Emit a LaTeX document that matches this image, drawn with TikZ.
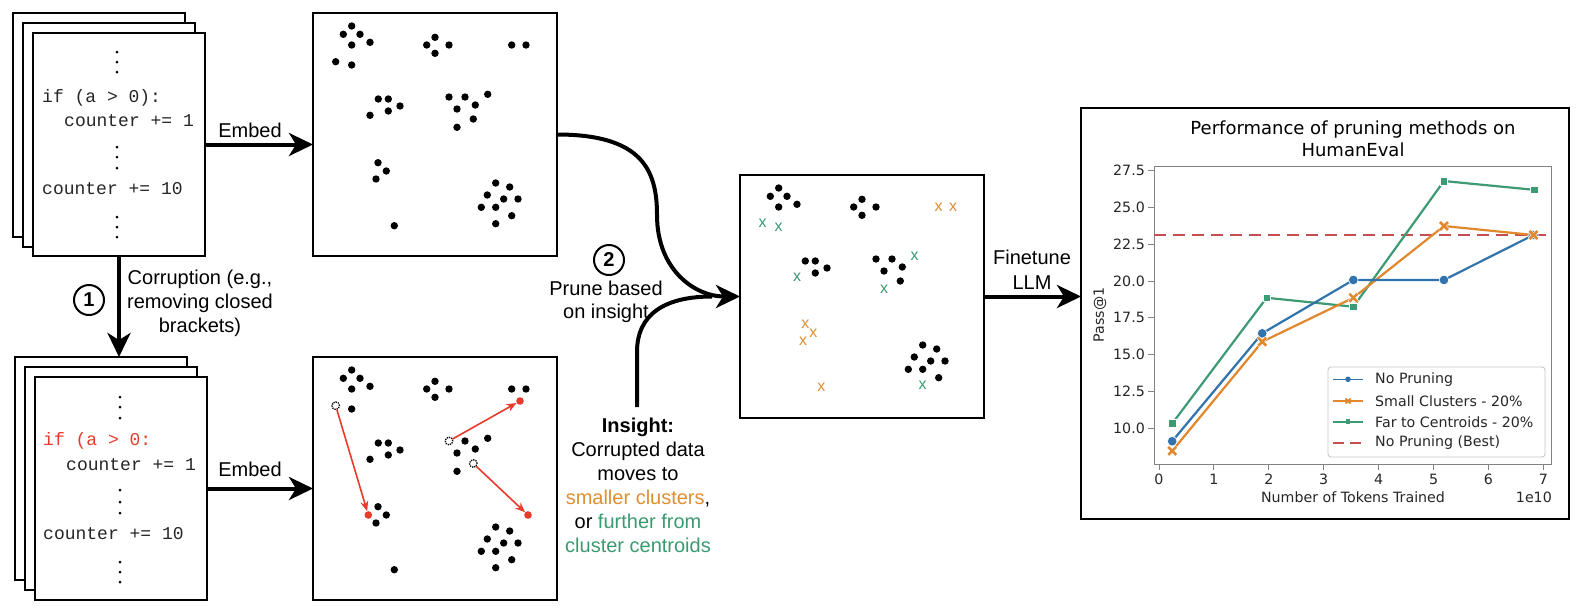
\documentclass[tikz,border=0pt]{standalone}
\usepackage{fontspec}
\setmainfont{Liberation Sans}
\newfontfamily\codefont{Liberation Mono}
\newfontfamily\plotfont{DejaVu Sans}
\usetikzlibrary{arrows.meta}
\definecolor{cred}{RGB}{232,59,44}
\definecolor{corange}{RGB}{222,143,50}
\definecolor{cgreen}{RGB}{60,154,113}
\definecolor{pblue}{RGB}{49,115,173}
\definecolor{porange}{RGB}{225,135,45}
\definecolor{pgreen}{RGB}{60,155,115}
\definecolor{pred}{RGB}{196,78,82}
\definecolor{ptext}{RGB}{38,38,38}
\definecolor{pspine}{RGB}{130,130,130}
\tikzset{
  sheet/.style={draw=black, line width=2pt, fill=white, inner sep=0pt, outer sep=0pt,
    minimum width=172pt, minimum height=223pt, anchor=north west},
  panel/.style={draw=black, line width=2pt, fill=white, inner sep=0pt, outer sep=0pt,
    minimum width=244pt, minimum height=243pt, anchor=north west},
  bigarrow/.style={line width=4pt, -{Stealth[length=24pt,width=23pt,inset=7pt]}},
  thickline/.style={line width=4pt},
  lbl/.style={font=\fontsize{20}{24}\selectfont, align=center, inner sep=0pt},
  code/.style={font=\codefont\fontsize{18}{18}\selectfont, anchor=base west, inner sep=0pt, text=black!85},
  numcirc/.style={circle, draw=black, line width=2pt, minimum size=30pt, inner sep=0pt,
    font=\bfseries\fontsize{20}{20}\selectfont},
  vdot/.style={fill=black},
  bdot/.style={fill=black},
  hollow/.style={draw=black, densely dotted, line width=1.3pt},
  reddot/.style={fill=cred},
  redarrow/.style={draw=cred, line width=1.6pt, -{Stealth[length=10pt,width=8pt]},
    shorten >=4pt, shorten <=4pt},
  xmark/.style={font=\fontsize{16}{16}\selectfont, inner sep=0pt},
  plotlbl/.style={font=\plotfont\fontsize{14.2}{17}\selectfont, text=ptext, inner sep=0pt},
  spine/.style={draw=pspine, line width=1pt},
  series/.style={line width=2.2pt},
  bestline/.style={pred, line width=2.6pt, dash pattern=on 12pt off 7pt},
}
\begin{document}
\begin{tikzpicture}[x=1pt, y=-1pt]
\useasboundingbox (0,0) rectangle (1584,614);
\fill[white] (0,0) rectangle (1584,614);

% ---------- top stack of code pages ----------
\node[sheet, minimum height=224pt] (back1) at (13,13) {};
\node[sheet, minimum height=224pt] (mid1) at (23,23) {};
\node[sheet] (front1) at (33,33) {};
\foreach \yy in {52,62,72,147,157,168,217,227,237}
  \fill[vdot] (117,\yy) circle[radius=1.5pt];
\node[code] (c1a) at (42,102) {if (a > 0):};
\node[code] (c1b) at (64,126) {counter += 1};
\node[code] (c1c) at (42,194) {counter += 10};

% ---------- bottom stack of code pages ----------
\node[sheet] (back2) at (15,357) {};
\node[sheet] (mid2) at (25,367) {};
\node[sheet] (front2) at (35,377) {};
\foreach \yy in {397,407,418,490,502,513,562,572,582}
  \fill[vdot] (120,\yy) circle[radius=1.5pt];
\node[code, text=cred] (c2a) at (43,445) {if (a > 0:};
\node[code] (c2b) at (66,470) {counter += 1};
\node[code] (c2c) at (43,539) {counter += 10};

% ---------- corruption arrow ----------
\draw[bigarrow] (front1.south) -- (front1.south |- back2.north);
\node[numcirc] (one) at (89,300) {1};
\node[lbl] (corr) at (200,303) {Corruption (e.g.,\\removing closed\\brackets)};

% ---------- embedding panels ----------
\node[panel] (box1) at (313,13) {};
\node[panel] (box2) at (313,357) {};
\node[panel] (box3) at (740,175) {};

% common black points
\foreach \ox/\oy in {313/13, 313/357, 740/175}{
  \begin{scope}[shift={(\ox,\oy)}]
  \foreach \p in {(38.7,13),(30.3,21.3),(47,21.3),(38.7,32),(57,29.3),
                  (122,24.3),(113.7,32),(136,32),(122,40.3),
                  (65.3,86),(75.3,86),(87,93),(75.3,98),
                  (152,84),(144,96),(162.3,92),
                  (182.7,170),(196.7,174),(174.3,182),(190.7,186),(205,186),(168.3,194.3),(182.7,194.3),(198.7,202.7)}
    \fill[bdot] \p circle[radius=3.7pt];
  \end{scope}
}
% box 1 extra points
\begin{scope}[shift={(313,13)}]
  \foreach \p in {(22.7,48.7),(38.7,52),(198.7,32),(213,32),(57,102.3),(136,84),(174.7,81.3),
                  (160.3,106),(144,114.3),(65,149.7),(73.3,158),(63,166),(182.7,210.7),(81.3,212.7)}
    \fill[bdot] \p circle[radius=3.7pt];
\end{scope}
% box 2 extra points
\begin{scope}[shift={(313,357)}]
  \foreach \p in {(38.7,52),(198.7,32),(213,32),(57,102.3),(174.7,81.3),(144,114.3),
                  (65,149.7),(73.3,158),(63,166),(182.7,210.7),(81.3,212.7)}
    \fill[bdot] \p circle[radius=3.7pt];
  \coordinate (h1) at (22.7,48.7);
  \coordinate (h2) at (136,84);
  \coordinate (h3) at (160.3,106.5);
  \coordinate (r1) at (55.3,158);
  \coordinate (r2) at (207,44);
  \coordinate (r3) at (215,158);
\end{scope}
\foreach \c in {h1,h2,h3} \draw[hollow] (\c) circle[radius=3.8pt];
\foreach \c in {r1,r2,r3} \fill[reddot] (\c) circle[radius=3.8pt];
\draw[redarrow] (h1) -- (r1);
\draw[redarrow] (h2) -- (r2);
\draw[redarrow] (h3) -- (r3);

% box 3 extra points
\begin{scope}[shift={(740,175)}]
  \foreach \p in {(136,84),(160.3,106)}
    \fill[bdot] \p circle[radius=3.7pt];
  \foreach \p [count=\i] in {(22.7,48.7),(38.7,52),(57,102.3),(174.7,81.3),(144,114.3),(182.7,210.7)}
    \node[xmark, text=cgreen] (gx\i) at \p {x};
  \foreach \p [count=\i] in {(198.7,32),(213,32),(65.3,149.7),(73.3,158),(63,166),(81.3,212.7)}
    \node[xmark, text=corange] (ox\i) at \p {x};
\end{scope}

% ---------- embed arrows ----------
\draw[bigarrow] (front1.east) -- (front1.east -| box1.west);
\node[lbl] (emb1) at (250,130) {Embed};
\draw[bigarrow] (front2.east) -- (front2.east -| box2.west);
\node[lbl] (emb2) at (250,469) {Embed};

% ---------- prune arrows ----------
\node[lbl] (insight) at (638,485) {\textbf{Insight:}\\Corrupted data\\moves to\\
  \textcolor{corange}{smaller clusters},\\or \textcolor{cgreen}{further from}\\
  \textcolor{cgreen}{cluster centroids}};
\coordinate (join) at (712,296.5);
\draw[bigarrow] (box1.east) .. controls +(85,0) and +(0,-45) .. (657,215)
   .. controls +(0,55) and +(-45,0) .. (box3.west);
\draw[thickline] (637,407) -- (637,352) .. controls (637,314) and (665,296.5) .. (join);
\node[numcirc] (two) at (609,260) {2};
\node[lbl, font=\fontsize{20}{23}\selectfont] (prune) at (606,301.5) {Prune based\\on insight};

% ---------- finetune arrow ----------
\node[draw=black, line width=2.5pt, fill=white, inner sep=0pt, outer sep=0pt,
  minimum width=488pt, minimum height=411pt, anchor=north west] (chart) at (1081,108) {};
\draw[bigarrow] (box3.east) -- (box3.east -| chart.west);
\node[lbl, font=\fontsize{20}{25}\selectfont] (ft) at (1032,269.5) {Finetune\\LLM};

% ---------- chart ----------
\node[plotlbl, text=black, font=\plotfont\fontsize{18}{22}\selectfont, align=center] (ctitle)
  at (1353,139) {Performance of pruning methods on\\HumanEval};
\begin{scope}[shift={(1159,575)}, x=54.9pt, y=14.7pt]
  \draw[spine] (-0.091,7.55) rectangle (7.158,27.76);
  \foreach \v/\t [count=\i] in {10/10.0,12.5/12.5,15/15.0,17.5/17.5,20/20.0,22.5/22.5,25/25.0,27.5/27.5}{
    \draw[spine] (-0.091,\v) -- ++(-6pt,0pt);
    \node[plotlbl, anchor=east] (yt\i) at ([xshift=-9pt]-0.091,\v) {\t};
  }
  \foreach \v [count=\i] in {0,...,7}{
    \draw[spine] (\v,7.55) -- ++(0pt,-6pt);
    \node[plotlbl] (xt\i) at ([yshift=-15pt]\v,7.55) {\v};
  }
  \draw[bestline] (-0.091,23.13) -- (7.158,23.13);
  % green
  \draw[series, pgreen] (0.24,10.3) -- (1.96,18.86) -- (3.54,18.25) -- (5.19,26.8) -- (6.84,26.2);
  \foreach \p in {(0.24,10.3),(1.96,18.86),(3.54,18.25),(5.19,26.8),(6.84,26.2)}
    \filldraw[fill=pgreen, draw=white, line width=0.6pt] \p ++(-3.8pt,-3.8pt) rectangle ++(7.6pt,7.6pt);
  % orange
  \draw[series, porange] (0.24,8.44) -- (1.88,15.87) -- (3.54,18.86) -- (5.19,23.74) -- (6.82,23.13);
  % blue
  \draw[series, pblue] (0.24,9.1) -- (1.88,16.44) -- (3.54,20.07) -- (5.19,20.07) -- (6.82,23.13);
  \foreach \p in {(0.24,9.1),(1.88,16.44),(3.54,20.07),(5.19,20.07),(6.82,23.13)}
    \filldraw[fill=pblue, draw=white, line width=0.6pt] \p circle[radius=4.8pt];
  \foreach \p in {(0.24,8.44),(1.88,15.87),(3.54,18.86),(5.19,23.74),(6.82,23.13)}{
    \draw[white, line width=3.8pt] \p ++(-4.3pt,-4.3pt) -- ++(8.6pt,8.6pt) \p ++(-4.3pt,4.3pt) -- ++(8.6pt,-8.6pt);
    \draw[porange, line width=2.6pt] \p ++(-4pt,-4pt) -- ++(8pt,8pt) \p ++(-4pt,4pt) -- ++(8pt,-8pt);
  }
\end{scope}
\node[plotlbl] (xlab) at (1353,497) {Number of Tokens Trained};
\node[plotlbl, anchor=east] (expo) at (1552,497) {1e10};
\node[plotlbl, rotate=90] (ylab) at (1100,315) {Pass@1};

% legend
\draw[draw=black!22, fill=white, fill opacity=0.85, line width=0.9pt, rounded corners=3pt]
  (1328,367) rectangle (1545,457);
\draw[series, pblue, line width=1.6pt] (1333,379.3) -- (1363,379.3);
\fill[pblue] (1348,379.3) circle[radius=2.8pt];
\draw[series, porange, line width=1.6pt] (1333,401) -- (1363,401);
\draw[porange, line width=1.8pt] (1345.5,398.5) -- (1350.5,403.5) (1345.5,403.5) -- (1350.5,398.5);
\draw[series, pgreen, line width=1.6pt] (1333,421.7) -- (1363,421.7);
\fill[pgreen] (1345.6,419.3) rectangle (1350.4,424.1);
\draw[pred, line width=2.4pt, dash pattern=on 11pt off 6pt] (1333,442.7) -- (1363,442.7);
\node[plotlbl, anchor=west] (lg1) at (1375,379.3) {No Pruning};
\node[plotlbl, anchor=west] (lg2) at (1375,401) {Small Clusters - 20\%};
\node[plotlbl, anchor=west] (lg3) at (1375,421.7) {Far to Centroids - 20\%};
\node[plotlbl, anchor=west] (lg4) at (1375,442.7) {No Pruning (Best)};
\end{tikzpicture}
\end{document}
